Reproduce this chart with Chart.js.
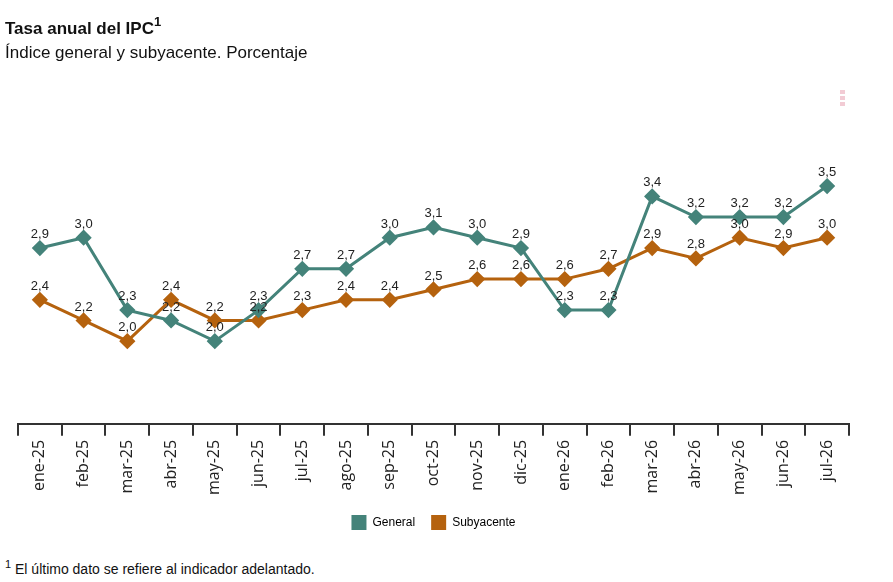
<!DOCTYPE html>
<html>
<head>
<meta charset="utf-8">
<script src="https://cdn.jsdelivr.net/npm/chart.js@4"></script>
<style>
  body { margin: 0; background: #fff; font-family: "Liberation Sans", Arial, sans-serif; color: #111; }
  #wrap { position: relative; width: 893px; height: 582px; overflow: hidden; }
  #title { position: absolute; left: 5px; top: 15px; font-size: 17px; font-weight: bold; }
  #title sup { font-size: 13px; position: relative; top: -1px; }
  #subtitle { position: absolute; left: 5px; top: 43px; font-size: 17px; }
  #note { position: absolute; left: 5px; top: 558px; font-size: 14px; }
  #note sup { font-size: 11px; }
  #menu { position: absolute; left: 840px; top: 90px; width: 5px; }
  #menu div { width: 5px; height: 4px; background: #f2cbd4; margin-bottom: 2px; }
  canvas { position: absolute; left: 0; top: 0; }
</style>
</head>
<body>
<div id="wrap">
  <canvas id="ipcChart" width="893" height="540"></canvas>
  <div id="title">Tasa anual del IPC<sup>1</sup></div>
  <div id="subtitle">Índice general y subyacente. Porcentaje</div>
  <div id="menu"><div></div><div></div><div></div></div>
  <div id="note"><sup>1</sup> El último dato se refiere al indicador adelantado.</div>
</div>
<script>
const months = ['ene-25', 'feb-25', 'mar-25', 'abr-25', 'may-25', 'jun-25', 'jul-25', 'ago-25', 'sep-25', 'oct-25',
  'nov-25', 'dic-25', 'ene-26', 'feb-26', 'mar-26', 'abr-26', 'may-26', 'jun-26', 'jul-26'];
const general = [2.9, 3.0, 2.3, 2.2, 2.0, 2.3, 2.7, 2.7, 3.0, 3.1, 3.0, 2.9, 2.3, 2.3, 3.4, 3.2, 3.2, 3.2, 3.5];
const subyacente = [2.4, 2.2, 2.0, 2.4, 2.2, 2.2, 2.3, 2.4, 2.4, 2.5, 2.6, 2.6, 2.6, 2.7, 2.9, 2.8, 3.0, 2.9, 3.0];

const tealColor = '#44837a';
const orangeColor = '#b5620e';

// value labels above each point, with comma decimals
const pointLabels = {
  id: 'pointLabels',
  afterDatasetsDraw(chart) {
    const ctx = chart.ctx;
    ctx.save();
    ctx.font = '13px "Liberation Sans", Arial, sans-serif';
    ctx.fillStyle = '#222';
    ctx.textAlign = 'center';
    ctx.textBaseline = 'bottom';
    chart.data.datasets.forEach((ds, i) => {
      chart.getDatasetMeta(i).data.forEach((pt, j) => {
        ctx.fillText(ds.data[j].toFixed(1).replace('.', ','), pt.x, pt.y - 7);
      });
    });
    ctx.restore();
  }
};

new Chart(document.getElementById('ipcChart'), {
  type: 'line',
  data: {
    labels: months,
    datasets: [{
      label: 'General',
      data: general,
      borderColor: tealColor,
      backgroundColor: tealColor,
      borderWidth: 3,
      pointStyle: 'rectRot',
      pointRadius: 6,
      pointHoverRadius: 6,
      tension: 0
    }, {
      label: 'Subyacente',
      data: subyacente,
      borderColor: orangeColor,
      backgroundColor: orangeColor,
      borderWidth: 3,
      pointStyle: 'rectRot',
      pointRadius: 6,
      pointHoverRadius: 6,
      tension: 0
    }]
  },
  options: {
    responsive: false,
    animation: false,
    layout: { padding: { left: 18, right: 44, top: 93, bottom: 0 } },
    plugins: {
      tooltip: { enabled: false },
      legend: {
        position: 'bottom',
        labels: {
          boxWidth: 15,
          boxHeight: 15,
          padding: 16,
          color: '#222',
          font: { size: 12, family: '"Liberation Sans", Arial, sans-serif' },
          generateLabels(chart) {
            return chart.data.datasets.map((ds, i) => ({
              text: ds.label,
              fillStyle: ds.borderColor,
              strokeStyle: ds.borderColor,
              lineWidth: 0,
              datasetIndex: i
            }));
          }
        }
      }
    },
    scales: {
      x: {
        offset: true,
        border: { display: true, color: '#333', width: 2 },
        grid: { offset: true, drawOnChartArea: false, drawTicks: true, tickLength: 12, color: '#333', lineWidth: 2 },
        ticks: {
          minRotation: 90,
          maxRotation: 90,
          padding: 4,
          color: '#222',
          font: { size: 16, family: '"Open Sans", sans-serif' }
        }
      },
      y: {
        display: false,
        min: 1.2,
        max: 4.4
      }
    }
  },
  plugins: [pointLabels]
});
</script>
</body>
</html>
